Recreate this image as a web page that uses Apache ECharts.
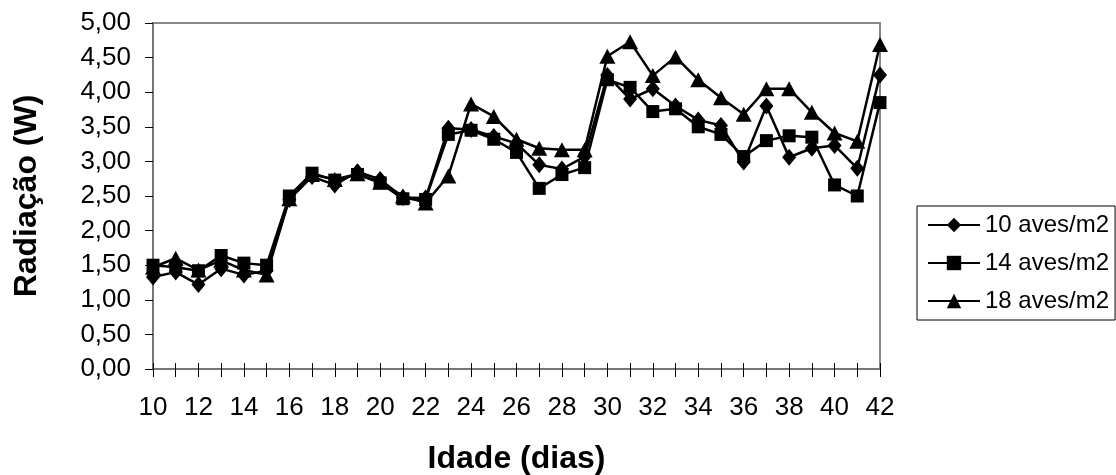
<!DOCTYPE html>
<html><head><meta charset="utf-8">
<script src="https://cdn.jsdelivr.net/npm/echarts@6/dist/echarts.min.js"></script>
<style>html,body{margin:0;padding:0;background:#fff}#c{width:1116px;height:475px}</style>
</head><body><div id="c"></div>
<script>
const days = [10,11,12,13,14,15,16,17,18,19,20,21,22,23,24,25,26,27,28,29,30,31,32,33,34,35,36,37,38,39,40,41,42];
const s10 = [1.33,1.40,1.22,1.45,1.36,1.42,2.45,2.78,2.66,2.85,2.74,2.48,2.47,3.48,3.46,3.36,3.26,2.95,2.89,3.07,4.24,3.90,4.05,3.80,3.60,3.52,2.99,3.80,3.06,3.19,3.23,2.90,4.25];
const s14 = [1.50,1.47,1.42,1.64,1.53,1.50,2.50,2.83,2.73,2.81,2.69,2.46,2.45,3.39,3.45,3.32,3.13,2.61,2.81,2.91,4.18,4.07,3.72,3.76,3.50,3.39,3.07,3.30,3.37,3.35,2.66,2.50,3.85];
const s18 = [1.47,1.60,1.43,1.57,1.43,1.36,2.46,2.81,2.74,2.82,2.70,2.50,2.40,2.79,3.83,3.65,3.32,3.19,3.17,3.17,4.52,4.73,4.24,4.51,4.18,3.92,3.68,4.05,4.05,3.71,3.41,3.29,4.69];
const seriesNames = ['10 aves/m2','14 aves/m2','18 aves/m2'];
const xTitle = 'Idade (dias)';
const yTitle = 'Radiação (W)';

const FONT = 'Liberation Sans, Arial, sans-serif';
const chart = echarts.init(document.getElementById('c'));
const mk = (name, data, symbol, size) => ({
  name, type: 'line', data, symbol, symbolSize: size, showSymbol: true, showAllSymbol: true,
  lineStyle: {color: '#000', width: 2.5}, itemStyle: {color: '#000', borderWidth: 0},
  emphasis: {disabled: true}, animation: false, z: 3
});
chart.setOption({
  animation: false,
  grid: {left: 153, right: 236, top: 23, bottom: 106, containLabel: false, outerBoundsMode: 'none',
    show: true, borderColor: '#888', borderWidth: 2, backgroundColor: '#fff'},
  legend: {
    orient: 'vertical', left: 917, top: 206, itemWidth: 52, itemHeight: 18, itemGap: 14,
    padding: [7, 6, 7, 10], borderColor: '#000', borderWidth: 1, backgroundColor: '#fff',
    textStyle: {fontFamily: FONT, fontSize: 24, color: '#000', lineHeight: 24},
    data: seriesNames
  },
  xAxis: [{
    type: 'category', data: days, boundaryGap: false,
    axisLine: {lineStyle: {color: '#777', width: 2}},
    axisTick: {show: true, interval: 0, length: 8, lineStyle: {color: '#000', width: 1}},
    axisLabel: {interval: 1, fontFamily: FONT, fontSize: 26, color: '#000', margin: 26},
    name: xTitle, nameLocation: 'middle', nameGap: 74,
    nameTextStyle: {fontFamily: FONT, fontSize: 32, fontWeight: 'bold', color: '#000'}
  }, {
    type: 'category', data: days, boundaryGap: false, position: 'bottom',
    axisLine: {show: false},
    axisTick: {show: true, inside: true, interval: 0, length: 6, lineStyle: {color: '#000', width: 1}},
    axisLabel: {show: false}
  }],
  yAxis: {
    type: 'value', min: 0, max: 5, interval: 0.5,
    splitLine: {show: false},
    axisLine: {show: true, lineStyle: {color: '#777', width: 2}},
    axisTick: {show: true, length: 8, lineStyle: {color: '#000', width: 1}},
    axisLabel: {fontFamily: FONT, fontSize: 26, color: '#000', margin: 22,
      formatter: v => v.toFixed(2).replace('.', ',')},
    name: yTitle, nameLocation: 'middle', nameGap: 110, nameRotate: 90,
    nameTextStyle: {fontFamily: FONT, fontSize: 32, fontWeight: 'bold', color: '#000'}
  },
  series: [
    mk(seriesNames[0], s10, 'diamond', [14, 17]),
    mk(seriesNames[1], s14, 'rect', 13),
    mk(seriesNames[2], s18, 'triangle', [16, 15])
  ]
});
</script></body></html>
